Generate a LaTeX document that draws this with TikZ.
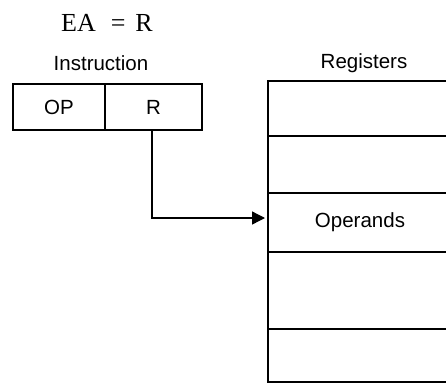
\documentclass[tikz,border=0pt]{standalone}
\usepackage{fontspec}
\setmainfont{Liberation Sans}
\newfontfamily\tmsfont{Liberation Serif}
\usetikzlibrary{arrows.meta}
\begin{document}
\begin{tikzpicture}[x=1pt,y=-1pt,
  txt/.style={font=\fontsize{20.5}{24}\selectfont,inner sep=0pt},
  cell/.style={draw,line width=1.3pt,inner sep=0pt,outer sep=0pt,
    font=\fontsize{20.5}{24}\selectfont},
  link/.style={line width=1.3pt,-{Triangle[length=13pt,width=13pt]},shorten >=3pt}]
\useasboundingbox (0,0) rectangle (446,383);
\clip (0,0) rectangle (446,383);
\node[inner sep=0pt,font=\tmsfont\fontsize{26}{30}\selectfont] (ea) at (107,23) {EA\hspace{15pt}=\hspace{10pt}R};
\node[txt] (instr) at (101,63) {Instruction};
\node[txt] (regs) at (364,63) {Registers};
\node[cell,minimum width=92pt,minimum height=46pt] (op) at (59,107) {OP};
\node[cell,minimum width=97pt,minimum height=46pt] (r) at (153.5,107) {R};
\node[cell,minimum width=184pt,minimum height=55pt] (reg1) at (360,108.5) {};
\node[cell,minimum width=184pt,minimum height=57pt] (reg2) at (360,164.5) {};
\node[cell,minimum width=184pt,minimum height=59pt] (reg3) at (360,222.5) {Operands};
\node[cell,minimum width=184pt,minimum height=77pt] (reg4) at (360,290.5) {};
\node[cell,minimum width=184pt,minimum height=53pt] (reg5) at (360,355.5) {};
\draw[link] ([xshift=-1.5pt]r.south) |- ([yshift=4.5pt]reg3.west);
\end{tikzpicture}
\end{document}
